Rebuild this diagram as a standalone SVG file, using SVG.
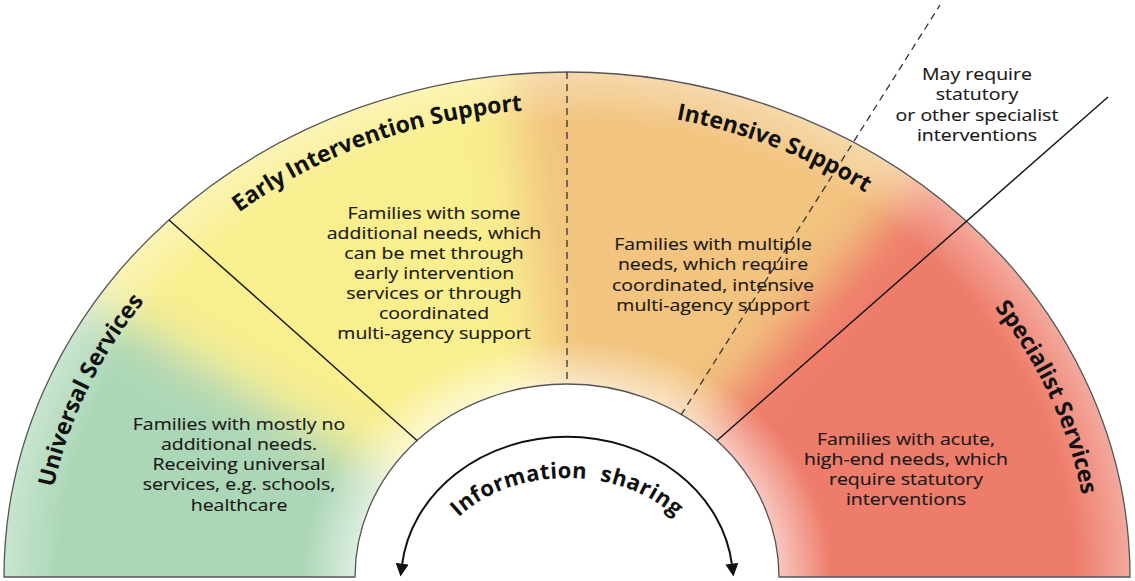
<svg xmlns="http://www.w3.org/2000/svg" width="1135" height="581" viewBox="0 0 1135 581">
<style>
.body{font-family:"Open Sans","Liberation Sans",sans-serif;font-size:16px;fill:#1a1818;stroke:#1a1818;stroke-width:0.15;text-anchor:middle}
.title{font-family:"Open Sans","Liberation Sans",sans-serif;font-size:23px;font-weight:bold;fill:#111;text-anchor:middle}
.info{font-family:"Open Sans","Liberation Sans",sans-serif;font-size:22px;font-weight:bold;fill:#111;text-anchor:middle;letter-spacing:0.4px;word-spacing:7px}
.edge{fill:none;stroke:#555;stroke-width:1.3}
.solid{fill:none;stroke:#1a1a1a;stroke-width:1.5}
.dash{fill:none;stroke:#333;stroke-width:1.3;stroke-dasharray:7 5}
</style>
<defs>
<clipPath id="band"><path d="M4,577 A563,505 0 0 1 1130,577 L779,577 A212,193 0 0 0 355,577 Z"/></clipPath>
<filter id="soft" filterUnits="userSpaceOnUse" x="-200" y="-200" width="1535" height="1000"><feGaussianBlur stdDeviation="24"/></filter>
<radialGradient id="glow" gradientUnits="userSpaceOnUse" cx="0" cy="0" r="505" gradientTransform="translate(567,577) scale(1.117,1)">
<stop offset="0.38" stop-color="#fff" stop-opacity="0.55"/>
<stop offset="0.47" stop-color="#fff" stop-opacity="0"/>
<stop offset="0.9" stop-color="#fff" stop-opacity="0"/>
<stop offset="1" stop-color="#fff" stop-opacity="0.35"/>
</radialGradient>
<marker id="ah" viewBox="0 0 10 10" refX="1" refY="5" markerWidth="13" markerHeight="13" markerUnits="userSpaceOnUse" orient="auto-start-reverse"><path d="M0,0 L10,5 L0,10 z" fill="#111"/></marker>
<path id="titlePath" d="M44,577 A523,468 0 0 1 1090,577"/>
<path id="infoPath" d="M431,577 A136,99 0 0 1 703,577"/>
</defs>
<g id="band-fill" clip-path="url(#band)">
<g filter="url(#soft)">
<polygon points="567,577 -273,851 -180,140" fill="#acd7b6"/>
<polygon points="567,577 -180,140 473.6,-218.6" fill="#f9ef8f"/>
<polygon points="567,577 473.6,-218.6 1117.4,-53.4" fill="#f2c47f"/>
<polygon points="567,577 1117.4,-53.4 1407,850.6" fill="#ee7b6a"/>
</g>
<rect x="0" y="0" width="1135" height="581" fill="url(#glow)"/>
</g>
<path class="edge" d="M4,577 A563,505 0 0 1 1130,577 L779,577 A212,193 0 0 0 355,577 Z"/>
<g id="connectors">
<line class="solid" x1="169" y1="220" x2="417" y2="440.5"/>
<line class="dash" x1="567" y1="72" x2="567" y2="384"/>
<line class="dash" x1="681" y1="415" x2="940" y2="5"/>
<line class="solid" x1="717" y1="440.5" x2="1108" y2="97"/>
<path d="M402,565 A166,144 0 0 1 732,565" fill="none" stroke="#111" stroke-width="2" marker-start="url(#ah)" marker-end="url(#ah)"/>
</g>
<g id="universal">
<text class="title"><textPath href="#titlePath" startOffset="12.5%">Universal Services</textPath></text>
<g transform="translate(239,0) scale(1.22,1)">
<text class="body" x="0" y="430">Families with mostly no</text>
<text class="body" x="0" y="450">additional needs.</text>
<text class="body" x="0" y="470">Receiving universal</text>
<text class="body" x="0" y="490">services, e.g. schools,</text>
<text class="body" x="0" y="511">healthcare</text>
</g>
</g>
<g id="early">
<text class="title"><textPath href="#titlePath" startOffset="29.4%">Early</textPath></text>
<text class="title"><textPath href="#titlePath" startOffset="36.2%">Intervention</textPath></text>
<text class="title"><textPath href="#titlePath" startOffset="44.2%">Support</textPath></text>
<g transform="translate(434,0) scale(1.22,1)">
<text class="body" x="0" y="219">Families with some</text>
<text class="body" x="0" y="239">additional needs, which</text>
<text class="body" x="0" y="259">can be met through</text>
<text class="body" x="0" y="279">early intervention</text>
<text class="body" x="0" y="299">services or through</text>
<text class="body" x="0" y="319">coordinated</text>
<text class="body" x="0" y="339">multi-agency support</text>
</g>
</g>
<g id="intensive">
<text class="title"><textPath href="#titlePath" startOffset="63.6%">Intensive Support</textPath></text>
<g transform="translate(713,0) scale(1.22,1)">
<text class="body" x="0" y="250">Families with multiple</text>
<text class="body" x="0" y="270">needs, which require</text>
<text class="body" x="0" y="291">coordinated, intensive</text>
<text class="body" x="0" y="311">multi-agency support</text>
</g>
</g>
<g id="specialist">
<text class="title"><textPath href="#titlePath" startOffset="88%">Specialist Services</textPath></text>
<g transform="translate(906,0) scale(1.22,1)">
<text class="body" x="0" y="445">Families with acute,</text>
<text class="body" x="0" y="465">high-end needs, which</text>
<text class="body" x="0" y="485">require statutory</text>
<text class="body" x="0" y="505">interventions</text>
</g>
</g>
<g id="may-require">
<g transform="translate(977,0) scale(1.22,1)">
<text class="body" x="0" y="80">May require</text>
<text class="body" x="0" y="100">statutory</text>
<text class="body" x="0" y="121">or other specialist</text>
<text class="body" x="0" y="141">interventions</text>
</g>
</g>
<g id="info-sharing">
<text class="info"><textPath href="#infoPath" startOffset="50%">Information sharing</textPath></text>
</g>
</svg>
